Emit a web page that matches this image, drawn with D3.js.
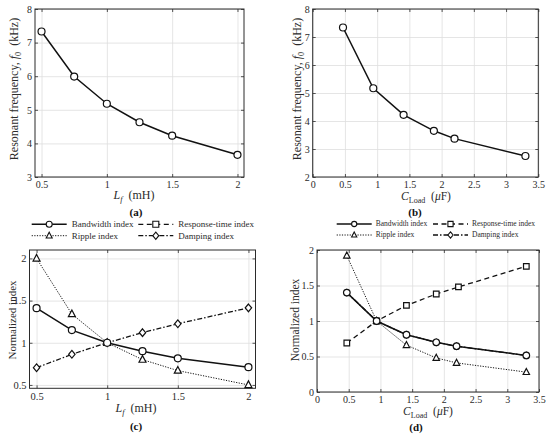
<!DOCTYPE html>
<html>
<head>
<meta charset="utf-8">
<script src="https://cdn.jsdelivr.net/npm/d3@7"></script>
<style>
  body { margin: 0; background: #fff; }
  svg { display: block; font-family: "Liberation Serif", "Times New Roman", serif; }
</style>
</head>
<body>
<svg id="chart" width="550" height="437"></svg>
<script>
// x values
const lfValues = [0.5, 0.75, 1, 1.25, 1.5, 2]
const cLoadValues = [0.47, 0.94, 1.41, 1.88, 2.2, 3.3]
const responseCLoadValues = [0.47, 0.94, 1.41, 1.88, 2.23, 3.3]

// (a), (b) resonant frequency in kHz
const f0VsLf = [7.33, 5.99, 5.18, 4.63, 4.23, 3.66]
const f0VsCLoad = [7.34, 5.17, 4.22, 3.65, 3.37, 2.75]

// (c) normalized indices vs Lf
const bandwidthLf = [1.41, 1.15, 1, 0.9, 0.816, 0.71]
const rippleLf = [2, 1.34, 1, 0.8, 0.67, 0.5]
const dampingLf = [0.704, 0.863, 1, 1.12, 1.225, 1.414]

// (d) normalized indices vs CLoad (damping lies under bandwidth)
const bandwidthCLoad = [1.4, 1, 0.806, 0.7, 0.645, 0.515]
const rippleCLoad = [1.92, 1, 0.66, 0.48, 0.41, 0.28]
const responseCLoad = [0.69, 1, 1.22, 1.38, 1.48, 1.77]
const dampingCLoad = [1.4, 1, 0.806, 0.7, 0.645, 0.515]

// ticks
const lfTicks = [0.5, 1, 1.5, 2]
const cLoadTicks = [0, 0.5, 1, 1.5, 2, 2.5, 3, 3.5]
const f0LfTicks = [3, 4, 5, 6, 7, 8]
const f0CLoadTicks = [2, 3, 4, 5, 6, 7, 8]
const indexLfTicks = [0.5, 1, 1.5, 2]
const indexCLoadTicks = [0, 0.5, 1, 1.5, 2]

const legendNames = ['Bandwidth index', 'Response-time index', 'Ripple index', 'Damping index']

const svg = d3.select('#chart')
const INK = '#2b2b2b'

const styles = {
  bandwidth: { dash: null, width: 1.5, marker: 'circle' },
  response: { dash: '5,3.5', width: 1.3, marker: 'square' },
  ripple: { dash: '1.2,1.4', width: 1, marker: 'triangle' },
  damping: { dash: '5,2,1.5,2', width: 1.3, marker: 'diamond' }
}

/**
 * Returns the path of a marker centred on 0,0.
 */
function markerPath (type, s) {
  if (type === 'circle') return d3.symbol(d3.symbolCircle, Math.PI * s * s)()
  if (type === 'square') return `M${-s},${-s}H${s}V${s}H${-s}Z`
  if (type === 'triangle') return `M0,${-s * 1.15}L${s},${s * 0.75}L${-s},${s * 0.75}Z`
  return `M0,${-s * 1.2}L${s},0L0,${s * 1.2}L${-s},0Z`
}

/**
 * Draws the frame, grid, ticks and tick labels of one panel.
 */
function drawAxes (box, xDomain, yDomain, xTicks, yTicks, fontSize) {
  const x = d3.scaleLinear().domain(xDomain).range([box.left, box.right])
  const y = d3.scaleLinear().domain(yDomain).range([box.bottom, box.top])
  const g = svg.append('g')
  const h = box.bottom - box.top
  const w = box.right - box.left

  g.append('g')
    .attr('transform', `translate(0,${box.bottom})`)
    .call(d3.axisBottom(x).tickValues(xTicks).tickSize(-h).tickFormat(''))
    .call(s => s.select('.domain').remove())
    .selectAll('line').attr('stroke', '#dedede').attr('stroke-width', 0.8)
  g.append('g')
    .attr('transform', `translate(${box.left},0)`)
    .call(d3.axisLeft(y).tickValues(yTicks).tickSize(-w).tickFormat(''))
    .call(s => s.select('.domain').remove())
    .selectAll('line').attr('stroke', '#dedede').attr('stroke-width', 0.8)

  const fmt = d => String(d)
  const sides = [
    [d3.axisBottom(x).tickFormat(fmt).tickPadding(4), `translate(0,${box.bottom})`, xTicks],
    [d3.axisTop(x).tickFormat(''), `translate(0,${box.top})`, xTicks],
    [d3.axisLeft(y).tickFormat(fmt).tickPadding(3), `translate(${box.left},0)`, yTicks],
    [d3.axisRight(y).tickFormat(''), `translate(${box.right},0)`, yTicks]
  ]
  sides.forEach(([axis, tr, ticks]) => {
    const a = g.append('g')
      .attr('transform', tr)
      .call(axis.tickValues(ticks).tickSizeInner(-3).tickSizeOuter(0))
    a.select('.domain').remove()
    a.selectAll('line').attr('stroke', INK).attr('stroke-width', 0.8)
    a.selectAll('text')
      .attr('fill', INK)
      .style('font-family', 'Liberation Serif, serif')
      .style('font-size', fontSize + 'px')
  })

  g.append('rect')
    .attr('x', box.left).attr('y', box.top)
    .attr('width', w).attr('height', h)
    .attr('fill', 'none').attr('stroke', INK).attr('stroke-width', 1)

  return { x, y }
}

/**
 * Draws one series with its line style and markers.
 */
function drawSeries (sc, xs, ys, style, size) {
  const pts = xs.map((d, i) => [d, ys[i]])
  const line = d3.line().x(d => sc.x(d[0])).y(d => sc.y(d[1]))
  svg.append('path')
    .attr('d', line(pts))
    .attr('fill', 'none')
    .attr('stroke', '#111')
    .attr('stroke-width', style.width)
    .attr('stroke-dasharray', style.dash)
  svg.append('g')
    .selectAll('path')
    .data(pts)
    .join('path')
    .attr('transform', d => `translate(${sc.x(d[0])},${sc.y(d[1])})`)
    .attr('d', markerPath(style.marker, size))
    .attr('fill', '#fff')
    .attr('stroke', '#111')
    .attr('stroke-width', 1.2)
}

/**
 * Draws the two row legend above panels (c) and (d).
 */
function drawLegend (pos, fontSize, size) {
  const keys = ['bandwidth', 'response', 'ripple', 'damping']
  keys.forEach((k, i) => {
    const col = i % 2
    const row = Math.floor(i / 2)
    const x0 = pos.cols[col]
    const yy = pos.rows[row]
    svg.append('line')
      .attr('x1', x0).attr('x2', x0 + pos.len)
      .attr('y1', yy).attr('y2', yy)
      .attr('stroke', '#111')
      .attr('stroke-width', styles[k].width)
      .attr('stroke-dasharray', styles[k].dash)
    svg.append('path')
      .attr('transform', `translate(${x0 + pos.len / 2},${yy})`)
      .attr('d', markerPath(styles[k].marker, size))
      .attr('fill', '#fff').attr('stroke', '#111').attr('stroke-width', 1.1)
    svg.append('text')
      .attr('x', x0 + pos.len + pos.gap).attr('y', yy + fontSize * 0.33)
      .attr('fill', INK)
      .style('font-size', fontSize + 'px')
      .text(legendNames[i])
  })
}

function yTitle (x, y, size, build) {
  const t = svg.append('text')
    .attr('transform', `translate(${x},${y}) rotate(-90)`)
    .attr('text-anchor', 'middle')
    .attr('fill', INK)
    .style('font-size', size + 'px')
  build(t)
}

function xTitle (x, y, size, build) {
  const t = svg.append('text')
    .attr('x', x).attr('y', y)
    .attr('text-anchor', 'middle')
    .attr('fill', INK)
    .style('font-size', size + 'px')
  build(t)
}

function caption (x, y, label) {
  svg.append('text')
    .attr('x', x).attr('y', y)
    .attr('text-anchor', 'middle')
    .attr('fill', '#111')
    .style('font-size', '11px')
    .style('font-weight', 'bold')
    .text(label)
}

const lfLabel = t => {
  t.append('tspan').style('font-style', 'italic').text('L')
  t.append('tspan').attr('dy', 3).style('font-style', 'italic').style('font-size', '0.7em').text('f')
  t.append('tspan').attr('dy', -3).text('\u2002(mH)')
}
const cLoadLabel = t => {
  t.append('tspan').style('font-style', 'italic').text('C')
  t.append('tspan').attr('dy', 3).style('font-size', '0.7em').text('Load')
  t.append('tspan').attr('dy', -3).text('\u2002(')
  t.append('tspan').style('font-style', 'italic').text('\u03bc')
  t.append('tspan').text('F)')
}
const f0Label = t => {
  t.append('tspan').text('Resonant frequency, ')
  t.append('tspan').style('font-style', 'italic').text('f')
  t.append('tspan').attr('dy', 3).style('font-size', '0.7em').text('0')
  t.append('tspan').attr('dy', -3).text('\u2002(kHz)')
}
const indexLabel = t => t.text('Normalized index')

// (a)
const scA = drawAxes({ left: 35, right: 244, top: 9, bottom: 177 }, [0.45, 2.05], [3, 8], lfTicks, f0LfTicks, 10)
drawSeries(scA, lfValues, f0VsLf, styles.bandwidth, 3.5)
yTitle(18, 89, 12, f0Label)
xTitle(134, 199, 12, lfLabel)
caption(136, 216, '(a)')

// (b)
const scB = drawAxes({ left: 312.7, right: 538.3, top: 9, bottom: 177 }, [0, 3.5], [2, 8], cLoadTicks, f0CLoadTicks, 10)
drawSeries(scB, cLoadValues, f0VsCLoad, styles.bandwidth, 3.5)
yTitle(300.5, 89, 12, f0Label)
xTitle(426, 200, 11.5, cLoadLabel)
caption(415, 216, '(b)')

// (c)
const scC = drawAxes({ left: 29.5, right: 255.5, top: 250, bottom: 388.3 }, [0.45, 2.05], [0.46, 2.1], lfTicks, indexLfTicks, 10.5)
drawSeries(scC, lfValues, rippleLf, styles.ripple, 3.5)
drawSeries(scC, lfValues, dampingLf, styles.damping, 3.2)
drawSeries(scC, lfValues, bandwidthLf, styles.bandwidth, 3.5)
yTitle(16, 320, 11, indexLabel)
xTitle(136, 412, 12, lfLabel)
caption(136, 430, '(c)')
drawLegend({ cols: [31.7, 138.3], rows: [224.3, 235.7], len: 35, gap: 5 }, 9, 3)

// (d)
const scD = drawAxes({ left: 317, right: 539, top: 250, bottom: 392 }, [0, 3.5], [0, 2], cLoadTicks, indexCLoadTicks, 10)
drawSeries(scD, responseCLoadValues, responseCLoad, styles.response, 2.8)
drawSeries(scD, cLoadValues, rippleCLoad, styles.ripple, 3.2)
drawSeries(scD, cLoadValues, dampingCLoad, styles.damping, 2.7)
drawSeries(scD, cLoadValues, bandwidthCLoad, styles.bandwidth, 3.3)
yTitle(299, 320, 11.5, indexLabel)
xTitle(428, 415, 11.5, cLoadLabel)
caption(416, 431, '(d)')
drawLegend({ cols: [336.7, 433], rows: [224, 235], len: 35, gap: 4 }, 7.5, 2.6)
</script>
</body>
</html>
